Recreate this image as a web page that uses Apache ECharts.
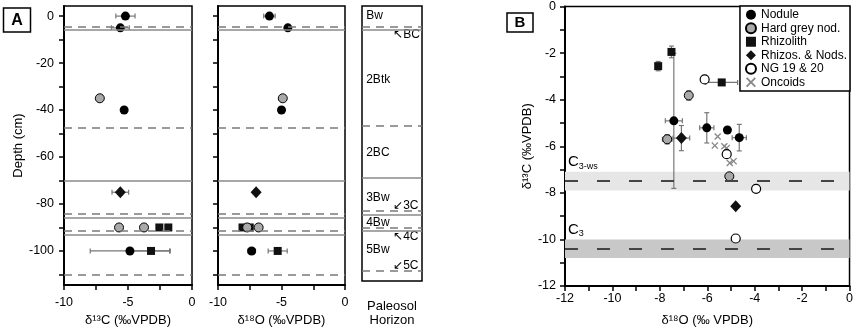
<!DOCTYPE html>
<html>
<head>
<meta charset="utf-8">
<script src="https://cdn.jsdelivr.net/npm/echarts@6/dist/echarts.min.js"></script>
<style>
html, body { margin: 0; padding: 0; background: #fff; }
#chart { width: 856px; height: 332px; }
</style>
</head>
<body>
<div id="chart"></div>
<script>
// ---------- data ----------
// Panel A: [value, depth (cm), error]
const nodule13 = [[-5.2, 0, 0.75], [-5.6, -5, 0.7], [-5.3, -40, 0], [-4.85, -100, 3.1]];
const greyNod13 = [[-7.2, -35, 0], [-5.7, -90, 0], [-3.75, -90, 0]];
const rhizolith13 = [[-2.55, -90, 0], [-1.85, -90, 0], [-3.2, -100, 1.5]];
const rhizNod13 = [[-5.6, -75, 0.65]];

const nodule18 = [[-5.95, 0, 0.45], [-4.5, -5, 0], [-5.0, -40, 0], [-7.35, -100, 0.3]];
const greyNod18 = [[-4.9, -35, 0], [-7.7, -90, 0], [-6.8, -90, 0]];
const rhizolith18 = [[-8.07, -90, 0], [-7.5, -90, 0], [-5.3, -100, 0.75]];
const rhizNod18 = [[-7.0, -75, 0]];

const dashedDepths = [-4.5, -47.5, -84, -91.5, -110];
const solidDepths = [-6, -70, -86, -93];

const horizons = [[0, 'Bw'], [-27.5, '2Btk'], [-59, '2BC'], [-78.4, '3Bw'], [-89.3, '4Bw'], [-101, '5Bw']];
const transitions = [[-8, '↖BC'], [-82, '↙3C'], [-95.5, '↖4C'], [-108, '↙5C']];

const depthTicks = [0, -10, -20, -30, -40, -50, -60, -70, -80, -90, -100, -110];
const depthLabels = [0, -20, -40, -60, -80, -100];

// Panel B: [d18O, d13C, xErr, yErr]
const noduleB = [[-7.41, -4.91, 0.36, 2.9], [-6.02, -5.21, 0.3, 0.65], [-5.15, -5.3, 0, 0], [-4.65, -5.63, 0.3, 0.57]];
const greyNodB = [[-6.78, -3.82, 0, 0.2], [-7.69, -5.7, 0.2, 0.2], [-5.07, -7.29, 0, 0]];
const rhizolithB = [[-7.51, -1.95, 0, 0.25], [-8.07, -2.56, 0, 0.2], [-5.39, -3.26, 0.67, 0]];
const rhizNodB = [[-7.09, -5.65, 0.35, 0.54], [-4.8, -8.58, 0, 0]];
const ngB = [[-6.11, -3.13], [-5.18, -6.34], [-3.94, -7.83], [-4.8, -9.96]];
const oncoidB = [[-5.56, -5.58], [-5.68, -5.97], [-5.28, -6.0], [-5.18, -6.08], [-5.05, -6.72], [-4.89, -6.64]];

const c3wsBand = [-7.9, -7.1], c3wsMean = -7.5;
const c3Band = [-10.8, -10.0], c3Mean = -10.4;

// ---------- styles ----------
const FONT = '"Liberation Sans", Arial, sans-serif';
const crossPath = 'path://M0,1.3L1.3,0L5,3.7L8.7,0L10,1.3L6.3,5L10,8.7L8.7,10L5,6.3L1.3,10L0,8.7L3.7,5Z';
const markers = {
    'Nodule': { symbol: 'circle', symbolSize: 9, itemStyle: { color: '#000', opacity: 1 } },
    'Hard grey nod.': { symbol: 'circle', symbolSize: 9, itemStyle: { color: '#a9a9a9', borderColor: '#000', borderWidth: 1, opacity: 1 } },
    'Rhizolith': { symbol: 'rect', symbolSize: 8, itemStyle: { color: '#111', opacity: 1 } },
    'Rhizos. & Nods.': { symbol: 'diamond', symbolSize: [11, 12], itemStyle: { color: '#111', opacity: 1 } },
    'NG 19 & 20': { symbol: 'circle', symbolSize: 9, itemStyle: { color: '#fff', borderColor: '#000', borderWidth: 1.2, opacity: 1 } },
    'Oncoids': { symbol: crossPath, symbolSize: 7, itemStyle: { color: '#888', opacity: 1 } }
};

function errRender(params, api) {
    const x = api.value(0), y = api.value(1);
    const ex = api.value(2) || 0, ey = api.value(3) || 0;
    const style = { stroke: '#777', lineWidth: 1.2 };
    const cap = 2.5;
    const kids = [];
    const seg = (x1, y1, x2, y2) => kids.push({ type: 'line', shape: { x1, y1, x2, y2 }, style });
    if (ex > 0) {
        const a = api.coord([x - ex, y]), b = api.coord([x + ex, y]);
        seg(a[0], a[1], b[0], b[1]);
        seg(a[0], a[1] - cap, a[0], a[1] + cap);
        seg(b[0], b[1] - cap, b[0], b[1] + cap);
    }
    if (ey > 0) {
        const a = api.coord([x, y - ey]), b = api.coord([x, y + ey]);
        seg(a[0], a[1], b[0], b[1]);
        seg(a[0] - cap, a[1], a[0] + cap, a[1]);
        seg(b[0] - cap, b[1], b[0] + cap, b[1]);
    }
    return { type: 'group', children: kids };
}

function errSeries(data, gi, horizOnly) {
    return {
        type: 'custom', xAxisIndex: gi, yAxisIndex: gi, z: 1, silent: true,
        renderItem: errRender, encode: { x: 0, y: 1 },
        data: data.map(d => horizOnly ? [d[0], d[1], d[2], 0] : [d[0], d[1], d[2] || 0, d[3] || 0])
    };
}

function pts(name, data, gi) {
    const m = markers[name];
    return {
        name, type: 'scatter', xAxisIndex: gi, yAxisIndex: gi, z: 3,
        symbol: m.symbol, symbolSize: m.symbolSize, itemStyle: m.itemStyle,
        data: data.map(d => [d[0], d[1]])
    };
}

function depthLines(gi) {
    const lines = dashedDepths.map(v => ({ yAxis: v, lineStyle: { type: [8, 6], color: '#7a7a7a', width: 1.5 } }))
        .concat(solidDepths.map(v => ({ yAxis: v, lineStyle: { type: 'solid', color: '#8a8a8a', width: 1.5 } })));
    return {
        type: 'line', xAxisIndex: gi, yAxisIndex: gi, data: [], z: 0,
        markLine: { silent: true, symbol: ['none', 'none'], label: { show: false }, data: lines }
    };
}

const textStyle = { color: '#000', fontSize: 13, fontFamily: FONT };
const tickText = { color: '#000', fontSize: 12.5, fontFamily: FONT };

function xAxisA(gi, name) {
    return {
        gridIndex: gi, type: 'value', min: -10, max: 0, interval: 2.5,
        name, nameLocation: 'middle', nameGap: 29, nameTextStyle: textStyle,
        axisLine: { onZero: false, lineStyle: { color: '#000', width: 2 } },
        axisTick: { inside: false, length: 5, lineStyle: { color: '#000', width: 1.5 } },
        axisLabel: Object.assign({ margin: 11, formatter: v => (v % 5 === 0 ? String(v) : '') }, tickText),
        splitLine: { show: false }
    };
}

function yAxisA(gi, showLabels) {
    return {
        gridIndex: gi, type: 'value', min: -114.5, max: 4.3,
        name: showLabels ? 'Depth (cm)' : '', nameLocation: 'middle', nameGap: 37, nameTextStyle: textStyle,
        axisLine: { onZero: false, lineStyle: { color: '#000', width: 2 } },
        axisTick: { inside: false, length: 5, customValues: depthTicks, lineStyle: { color: '#000', width: 1.5 } },
        axisLabel: Object.assign({ show: showLabels, margin: 10, customValues: depthLabels }, tickText),
        splitLine: { show: false }
    };
}

const horizonLabels = {
    type: 'scatter', xAxisIndex: 2, yAxisIndex: 2, symbolSize: 0, silent: true,
    itemStyle: { opacity: 1 },
    data: horizons.map(h => [0.07, h[0], h[1]]).concat(transitions.map(t => [0.52, t[0], t[1]])),
    label: {
        show: true, position: 'right', distance: 0, formatter: p => p.value[2],
        color: '#000', fontSize: 12, fontFamily: FONT
    }
};

const bandLabel = (sub) => ({
    show: true, position: [3, -19], formatter: '{c|C}{s|' + sub + '}',
    rich: {
        c: { fontSize: 15, color: '#000', fontFamily: FONT },
        s: { fontSize: 9, color: '#000', fontFamily: FONT, padding: [9, 0, 0, 0] }
    }
});

const option = {
    animation: false,
    backgroundColor: '#fff',
    textStyle: { fontFamily: FONT },
    grid: [
        { left: 64, top: 6, width: 128, height: 280, show: true, borderColor: '#000', borderWidth: 1.5 },
        { left: 218, top: 6, width: 127, height: 280, show: true, borderColor: '#000', borderWidth: 1.5 },
        { left: 362, top: 6, width: 60, height: 280, show: true, borderColor: '#000', borderWidth: 1.5 },
        { left: 565, top: 6, width: 285, height: 281, show: true, borderColor: '#000', borderWidth: 1.5 }
    ],
    xAxis: [
        xAxisA(0, 'δ¹³C (‰VPDB)'),
        xAxisA(1, 'δ¹⁸O (‰VPDB)'),
        {
            gridIndex: 2, type: 'value', min: 0, max: 1,
            name: 'Paleosol\nHorizon', nameLocation: 'middle', nameGap: 18,
            nameTextStyle: Object.assign({ lineHeight: 14 }, textStyle),
            axisLine: { show: false }, axisTick: { show: false }, axisLabel: { show: false }, splitLine: { show: false }
        },
        {
            gridIndex: 3, type: 'value', min: -12, max: 0, interval: 1,
            name: 'δ¹⁸O (‰ VPDB)', nameLocation: 'middle', nameGap: 28, nameTextStyle: textStyle,
            axisLine: { onZero: false, lineStyle: { color: '#000', width: 2 } },
            axisTick: { inside: false, length: 5, lineStyle: { color: '#000', width: 1.5 } },
            axisLabel: Object.assign({ margin: 6, formatter: v => (v % 2 === 0 ? String(v) : '') }, tickText),
            splitLine: { show: false }
        }
    ],
    yAxis: [
        yAxisA(0, true),
        yAxisA(1, false),
        {
            gridIndex: 2, type: 'value', min: -114.5, max: 4.3,
            axisLine: { show: false }, axisTick: { show: false }, axisLabel: { show: false }, splitLine: { show: false }
        },
        {
            gridIndex: 3, type: 'value', min: -12, max: 0, interval: 1,
            name: 'δ¹³C (‰VPDB)', nameLocation: 'middle', nameGap: 28, nameTextStyle: textStyle,
            axisLine: { onZero: false, lineStyle: { color: '#000', width: 2 } },
            axisTick: { inside: false, length: 5, lineStyle: { color: '#000', width: 1.5 } },
            axisLabel: Object.assign({ margin: 9, formatter: v => (v % 2 === 0 ? String(v) : '') }, tickText),
            splitLine: { show: false }
        }
    ],
    legend: {
        orient: 'vertical', right: 6, top: 6,
        data: Object.keys(markers),
        selectedMode: false,
        itemWidth: 10, itemHeight: 10, itemGap: 0,
        padding: [2, 3, 2, 5],
        borderColor: '#000', borderWidth: 1.5, backgroundColor: '#fff',
        textStyle: { color: '#000', fontSize: 12, lineHeight: 13.5, fontFamily: FONT }
    },
    graphic: [
        { type: 'rect', shape: { x: 3.5, y: 8, width: 27, height: 24 }, style: { fill: '#fff', stroke: '#000', lineWidth: 1.5 } },
        { type: 'text', x: 17, y: 20.5, style: { text: 'A', font: 'bold 16px "Liberation Sans", Arial', fill: '#000', align: 'center', verticalAlign: 'middle' } },
        { type: 'rect', shape: { x: 507, y: 13, width: 26, height: 19 }, style: { fill: '#fff', stroke: '#000', lineWidth: 1.5 } },
        { type: 'text', x: 520, y: 23, style: { text: 'B', font: 'bold 15px "Liberation Sans", Arial', fill: '#000', align: 'center', verticalAlign: 'middle' } }
    ],
    series: [
        depthLines(0), depthLines(1), depthLines(2),
        horizonLabels,
        // A: d13C
        errSeries(nodule13, 0, true), errSeries(rhizolith13, 0, true), errSeries(rhizNod13, 0, true),
        pts('Rhizolith', rhizolith13, 0), pts('Hard grey nod.', greyNod13, 0),
        pts('Nodule', nodule13, 0), pts('Rhizos. & Nods.', rhizNod13, 0),
        // A: d18O
        errSeries(nodule18, 1, true), errSeries(rhizolith18, 1, true),
        pts('Rhizolith', rhizolith18, 1), pts('Hard grey nod.', greyNod18, 1),
        pts('Nodule', nodule18, 1), pts('Rhizos. & Nods.', rhizNod18, 1),
        // B
        {
            type: 'line', xAxisIndex: 3, yAxisIndex: 3, data: [], z: 0,
            markArea: {
                silent: true,
                data: [
                    [{ yAxis: c3wsBand[1], itemStyle: { color: '#e6e6e6' }, label: bandLabel('3-ws') }, { yAxis: c3wsBand[0] }],
                    [{ yAxis: c3Band[1], itemStyle: { color: '#c8c8c8' }, label: bandLabel('3') }, { yAxis: c3Band[0] }]
                ]
            },
            markLine: {
                silent: true, symbol: ['none', 'none'], label: { show: false },
                lineStyle: { type: [13, 19], color: '#444', width: 2 },
                data: [{ yAxis: c3wsMean }, { yAxis: c3Mean }]
            }
        },
        errSeries(noduleB, 3), errSeries(greyNodB, 3), errSeries(rhizolithB, 3), errSeries(rhizNodB, 3),
        pts('Oncoids', oncoidB, 3),
        pts('Rhizolith', rhizolithB, 3), pts('Hard grey nod.', greyNodB, 3),
        pts('Nodule', noduleB, 3), pts('Rhizos. & Nods.', rhizNodB, 3),
        pts('NG 19 & 20', ngB, 3)
    ]
};

const chart = echarts.init(document.getElementById('chart'));
chart.setOption(option);
</script>
</body>
</html>
